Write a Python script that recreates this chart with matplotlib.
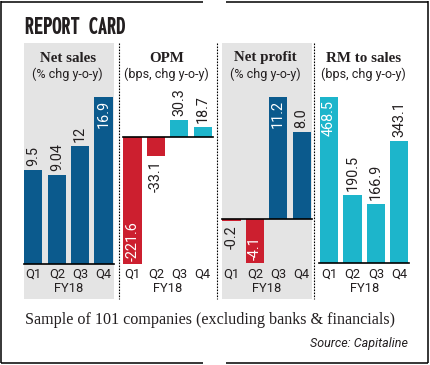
import matplotlib
matplotlib.use("Agg")
import matplotlib.pyplot as plt
from matplotlib import font_manager as fm
from matplotlib.font_manager import FontProperties
from matplotlib.lines import Line2D
from matplotlib.patches import Rectangle

# ---------------- data ----------------
quarters = ["Q1", "Q2", "Q3", "Q4"]
fiscal_year = "FY18"
panel_titles = ["Net sales", "OPM", "Net profit", "RM to sales"]
panel_subtitles = ["(% chg y-o-y)", "(bps, chg y-o-y)", "(% chg y-o-y)", "(bps, chg y-o-y)"]
net_sales = [9.5, 9.04, 12, 16.9]
opm = [-221.6, -33.1, 30.3, 18.7]
net_profit = [-0.2, -4.1, 11.2, 8.0]
rm_to_sales = [468.5, 190.5, 166.9, 343.1]
title = "REPORT CARD"
footnote = "Sample of 101 companies (excluding banks & financials)"
source = "Source: Capitaline"

# ---------------- style ----------------
W, H = 431, 365
DARK_BLUE = "#0b5a8d"
RED = "#cc1f2f"
CYAN = "#1db5cb"
GREY = "#e4e4e4"
INK = "#231f20"

fig = plt.figure(figsize=(W / 100, H / 100), dpi=100)
fig.patch.set_facecolor("white")
renderer = fig.canvas.get_renderer()


def fx(x):
    return x / W


def fy(y):
    return 1 - y / H


def px2pt(p):
    return p * 72 / 100


# pick fonts
names = {f.name for f in fm.fontManager.ttflist}
SANS = "Roboto" if "Roboto" in names else "DejaVu Sans"
SERIF = "Liberation Serif" if "Liberation Serif" in names else "DejaVu Serif"


def weight_num(w):
    if isinstance(w, (int, float)):
        return w
    return fm.weight_dict.get(w, 400)


cands = []
for f in fm.fontManager.ttflist:
    fn = f.fname.lower()
    if (("condensed" in fn or "narrow" in fn) and weight_num(f.weight) >= 600
            and f.style == "normal" and "italic" not in fn):
        cands.append(f.fname)
cands = cands[:40]

best_fp = FontProperties(family=SANS, weight="bold")
best_ratio = None
for fname in cands:
    try:
        fp = FontProperties(fname=fname)
        t = fig.text(0, 0, title, fontproperties=fp, fontsize=20)
        bb = t.get_window_extent(renderer=renderer)
        t.remove()
        r = bb.width / 20
        if best_ratio is None or r < best_ratio:
            best_ratio, best_fp = r, fp
    except Exception:
        pass

# ---------------- frame ----------------
def fline(x0, y0, x1, y1, **kw):
    fig.add_artist(Line2D([fx(x0), fx(x1)], [fy(y0), fy(y1)], transform=fig.transFigure, **kw))

frame_kw = dict(color="black", lw=1.1, solid_capstyle="butt")
fline(1.5, 1.5, 203, 1.5, **frame_kw)
fline(226, 1.5, 428, 1.5, **frame_kw)
fline(1.5, 362.5, 203, 362.5, **frame_kw)
fline(226, 362.5, 428, 362.5, **frame_kw)
fline(1.5, 1, 1.5, 363, **frame_kw)
fline(428, 1, 428, 363, **frame_kw)

# title
tt = fig.text(fx(25), fy(34), title, fontproperties=best_fp, fontsize=px2pt(26),
              color=INK, ha="left", va="baseline")
bb = tt.get_window_extent(renderer=renderer)
if bb.width > 135:
    tt.set_fontsize(tt.get_fontsize() * 135 / bb.width)

# ---------------- panels ----------------
TOP, PLOT_BOTTOM, PANEL_BOTTOM = 43, 264, 299
PITCH, BAR_W = 23.4, 18.2
bar_lefts = [24.3, 123.3, 222.3, 320.0]
series = [net_sales, opm, net_profit, rm_to_sales]
pos_colors = [DARK_BLUE, CYAN, DARK_BLUE, CYAN]
ylims = [(0, 22.4), (-222.3, 165.4), (-4.15, 16.22), (-2.0, 618.8)]
grey_panels = [True, False, True, False]
dividers = [119.5, 216.7, 314.3]

for i, (L, vals) in enumerate(zip(bar_lefts, series)):
    ax_left = L - 0.5
    ax_w = 90.0
    if grey_panels[i]:
        fig.add_artist(Rectangle((fx(ax_left), fy(PANEL_BOTTOM)), ax_w / W,
                                 (PANEL_BOTTOM - TOP) / H, transform=fig.transFigure,
                                 facecolor=GREY, edgecolor="none", zorder=0))
    ax = fig.add_axes([fx(ax_left), fy(PLOT_BOTTOM), ax_w / W, (PLOT_BOTTOM - TOP) / H])
    ax.set_facecolor("none")
    for s in ax.spines.values():
        s.set_visible(False)
    xl = -(BAR_W / 2 + 0.5) / PITCH
    ax.set_xlim(xl, xl + ax_w / PITCH)
    ax.set_ylim(*ylims[i])
    cols = [pos_colors[i] if v >= 0 else RED for v in vals]
    ax.bar(range(len(vals)), vals, width=BAR_W / PITCH, color=cols, zorder=2)
    ax.axhline(0, color="black", lw=1.2, zorder=3, clip_on=False)
    ax.set_yticks([])
    ax.set_xticks(range(len(quarters)), quarters)
    ax.tick_params(axis="x", length=0, pad=px2pt(3.5), labelsize=9.3, labelcolor=INK)
    for lab in ax.get_xticklabels():
        lab.set_fontfamily(SANS)
    ax.text(0.5, -(288 - PLOT_BOTTOM) / (PLOT_BOTTOM - TOP), fiscal_year,
            transform=ax.transAxes, ha="center", va="center", fontsize=9.3,
            color=INK, family=SANS)

    lo, hi = ylims[i]
    for k, v in enumerate(vals):
        txt = str(v)
        if v >= 0:
            inside = v > 0.6 * hi
            off, va = (-3, "top") if inside else (4, "bottom")
        else:
            inside = abs(v) > 0.6 * abs(lo)
            off, va = (3, "bottom") if inside else (-4, "top")
        ax.annotate(txt, (k, v), xytext=(0, px2pt(off)), textcoords="offset points",
                    rotation=90, ha="center", va=va, fontsize=10.4, family=SANS,
                    color="white" if inside else INK, zorder=4,
                    annotation_clip=False)

    cx = ax_left + ax_w / 2 - 1
    fig.text(fx(cx), fy(58), panel_titles[i], ha="center", va="center",
             family=SERIF, weight="bold", fontsize=10.8, color=INK)
    fig.text(fx(cx), fy(74), panel_subtitles[i], ha="center", va="center",
             family=SANS, fontsize=9.0, color=INK)

for x in dividers:
    fline(x, TOP, x, PANEL_BOTTOM, color="black", lw=0.8, linestyle=(0, (1.5, 1.2)))

# ---------------- footer ----------------
ft = fig.text(fx(25), fy(320), footnote, ha="left", va="center", family=SERIF,
              fontsize=11.5, color=INK)
bb = ft.get_window_extent(renderer=renderer)
ft.set_fontsize(ft.get_fontsize() * 372 / bb.width)

st = fig.text(fx(408), fy(343), source, ha="right", va="center", family=SANS,
              style="italic", fontsize=9.5, color=INK)
bb = st.get_window_extent(renderer=renderer)
st.set_fontsize(st.get_fontsize() * 98 / bb.width)

fig.savefig("out.png", dpi=100)
